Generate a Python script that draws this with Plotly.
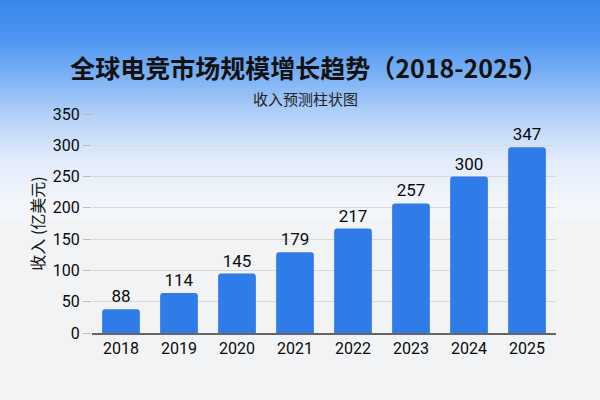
import plotly.graph_objects as go

years = ["2018", "2019", "2020", "2021", "2022", "2023", "2024", "2025"]
bar_heights = [38, 64, 95, 129, 167, 207, 250, 297]
label_texts = ["88", "114", "145", "179", "217", "257", "300", "347"]
y_ticks = [0, 50, 100, 150, 200, 250, 300, 350]

title_text = "全球电竞市场规模增长趋势（2018-2025）"
subtitle_text = "收入预测柱状图"
y_title = "收入 (亿美元)"

FONT = "Roboto, Noto Sans CJK SC, sans-serif"
TFONT = "Noto Sans CJK SC, sans-serif"

W, H = 600, 400
L, R, T, B = 92, 44, 114, 67
PH = H - T - B

def py(p):
    return (H - B - p) / PH

def px(p):
    return (p - L) / (W - L - R)

fig = go.Figure()
fig.add_trace(go.Bar(
    x=years, y=bar_heights,
    text=label_texts, textposition="outside",
    textfont=dict(family=FONT, size=17, color="#0a0a0a"),
    marker=dict(color="#2f7be8", cornerradius=3, line=dict(width=0)),
    cliponaxis=False,
))

stops = [(0, (55, 135, 235)), (40, (78, 150, 240)), (80, (128, 180, 245)),
         (120, (185, 212, 248)), (160, (225, 235, 250)), (200, (242, 245, 250)),
         (400, (242, 243, 245))]

def col(p):
    for i in range(len(stops) - 1):
        a, ca = stops[i]
        b, cb = stops[i + 1]
        if a <= p <= b:
            f = (p - a) / (b - a)
            return "rgb(%d,%d,%d)" % tuple(round(ca[k] + (cb[k] - ca[k]) * f) for k in range(3))
    return "rgb(242,243,245)"

shapes = []
step = 4
for p in range(0, 220, step):
    shapes.append(dict(type="rect", xref="paper", yref="paper",
                       x0=px(-5), x1=px(W + 5), y0=py(p + step + 0.5), y1=py(p - 0.5 if p > 0 else -5),
                       fillcolor=col(p + step / 2), line=dict(width=0), layer="below"))

fig.update_layout(
    width=W, height=H,
    margin=dict(l=L, r=R, t=T, b=B),
    paper_bgcolor="rgb(242,243,245)",
    plot_bgcolor="rgba(0,0,0,0)",
    shapes=shapes,
    showlegend=False,
    bargap=0.35,
    font=dict(family=FONT, color="#111111"),
    title=dict(text="<b>" + title_text + "</b>", x=309 / W, xref="container", xanchor="center",
               y=1 - 69 / H, yanchor="middle", font=dict(size=25, color="#111111", family=TFONT)),
    annotations=[dict(text=subtitle_text, xref="paper", yref="paper", x=px(305), y=py(99),
                      xanchor="center", yanchor="middle", showarrow=False,
                      font=dict(size=15, color="#222222", family=TFONT))],
    xaxis=dict(type="category", showgrid=False, showline=True, linecolor="#666666", linewidth=1.5,
               ticks="", tickfont=dict(size=16, color="#0a0a0a", family=FONT)),
    yaxis=dict(range=[0, 350], tickvals=y_ticks, showgrid=True, gridcolor="#d9d9d9", gridwidth=1,
               zeroline=False, showline=False, ticks="outside", ticklen=8, tickcolor="#bbbbbb",
               tickfont=dict(size=16, color="#0a0a0a", family=FONT),
               title=dict(text=y_title, font=dict(size=16, color="#111111", family=TFONT), standoff=4)),
)

fig.write_html("out.html")
